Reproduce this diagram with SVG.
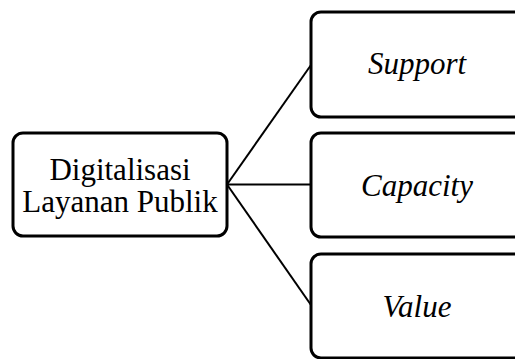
<svg xmlns="http://www.w3.org/2000/svg" width="515" height="359" viewBox="0 0 515 359">
<style>
.box{fill:#fff;stroke:#000;stroke-width:3}
.t{font-family:"Liberation Serif","Times New Roman",serif;font-size:31px;fill:#000;text-anchor:middle}
.i{font-style:italic}
.c{stroke:#000;stroke-width:2;fill:none}
</style>
<rect width="515" height="359" fill="#fff"/>
<g id="connectors">
<line class="c" x1="227" y1="184.5" x2="311" y2="65"/>
<line class="c" x1="227" y1="184.5" x2="311" y2="184.5"/>
<line class="c" x1="227" y1="184.5" x2="311" y2="305"/>
</g>
<g id="n0">
<rect class="box" x="13" y="133" width="214" height="103" rx="10"/>
<text class="t" x="120" y="180">Digitalisasi</text>
<text class="t" x="120" y="212">Layanan Publik</text>
</g>
<g id="n1">
<rect class="box" x="311" y="12" width="214" height="105" rx="10"/>
<text class="t i" x="417" y="74">Support</text>
</g>
<g id="n2">
<rect class="box" x="311" y="133" width="214" height="104" rx="10"/>
<text class="t i" x="417" y="196">Capacity</text>
</g>
<g id="n3">
<rect class="box" x="311" y="254" width="214" height="104" rx="10"/>
<text class="t i" x="417" y="317">Value</text>
</g>
</svg>
